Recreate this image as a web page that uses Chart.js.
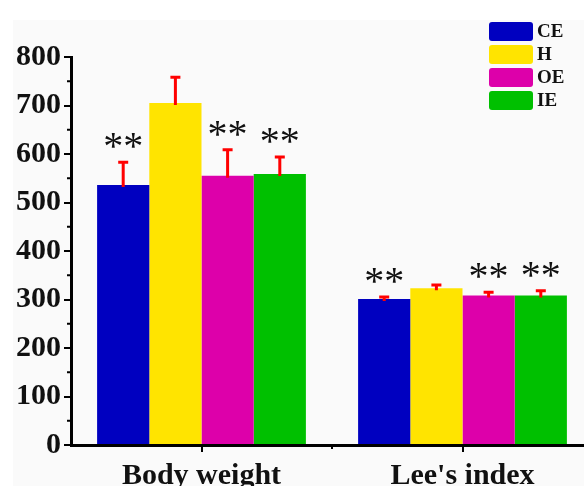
<!DOCTYPE html>
<html>
<head>
<meta charset="utf-8">
<script src="https://cdn.jsdelivr.net/npm/chart.js@4/dist/chart.umd.min.js"></script>
<style>
  html, body { margin: 0; padding: 0; background: #fff; overflow: hidden; width: 584px; height: 486px; }
  #panel { position: absolute; left: 13px; top: 20px; right: 0; bottom: 0; background: #fafafa; }
  #wrap { position: absolute; left: 0; top: 0; width: 604px; height: 500px; }
</style>
</head>
<body>
<div id="panel"></div>
<div id="wrap"><canvas id="chart" width="604" height="500"></canvas></div>
<script>
// categories and groups
const categories = ['Body weight', "Lee's index"];
const groupNames = ['CE', 'H', 'OE', 'IE'];

// means
const ceValues = [536, 301];
const hValues = [705, 323];
const oeValues = [555, 308];
const ieValues = [559, 308];

// error (upper) values
const ceErrors = [47, 4];
const hErrors = [53, 7];
const oeErrors = [54, 7];
const ieErrors = [35, 10];

// significance marks
const ceMarks = ['**', '**'];
const hMarks = ['', ''];
const oeMarks = ['**', '**'];
const ieMarks = ['**', '**'];

const yTicks = [0, 100, 200, 300, 400, 500, 600, 700, 800];

const serif = "'Liberation Serif', 'Times New Roman', serif";
const colors = ['#0000c0', '#ffe400', '#dd00aa', '#00c000'];

const values = [ceValues, hValues, oeValues, ieValues];
const errors = [ceErrors, hErrors, oeErrors, ieErrors];
const marks = [ceMarks, hMarks, oeMarks, ieMarks];

const datasets = groupNames.map((name, i) => ({
  label: name,
  data: values[i],
  errors: errors[i],
  marks: marks[i],
  backgroundColor: colors[i],
  borderWidth: 0,
  categoryPercentage: 0.8,
  barPercentage: 1.0,
}));

// error bars, asterisks, minor ticks, legend
const extras = {
  id: 'extras',
  afterDatasetsDraw(chart) {
    const ctx = chart.ctx;
    const y = chart.scales.y;
    const x = chart.scales.x;
    ctx.save();

    // error bars
    chart.data.datasets.forEach((ds, di) => {
      const meta = chart.getDatasetMeta(di);
      meta.data.forEach((bar, i) => {
        const top = y.getPixelForValue(ds.data[i] + ds.errors[i]);
        ctx.strokeStyle = '#ff0000';
        ctx.lineWidth = 3;
        ctx.beginPath();
        ctx.moveTo(bar.x, bar.y + 2);
        ctx.lineTo(bar.x, top);
        ctx.moveTo(bar.x - 5, top);
        ctx.lineTo(bar.x + 5, top);
        ctx.stroke();

        if (ds.marks[i]) {
          ctx.fillStyle = '#111';
          ctx.font = '40px ' + serif;
          ctx.textAlign = 'center';
          ctx.textBaseline = 'alphabetic';
          ctx.fillText(ds.marks[i], bar.x, top - 3);
        }
      });
    });

    // minor ticks on y
    ctx.strokeStyle = '#000';
    ctx.lineWidth = 2;
    for (let v = 50; v < 800; v += 100) {
      const py = y.getPixelForValue(v);
      ctx.beginPath();
      ctx.moveTo(chart.chartArea.left - 4, py);
      ctx.lineTo(chart.chartArea.left, py);
      ctx.stroke();
    }
    // minor tick between categories
    const mid = (x.getPixelForTick(0) + x.getPixelForTick(1)) / 2;
    ctx.beginPath();
    ctx.moveTo(mid, chart.chartArea.bottom);
    ctx.lineTo(mid, chart.chartArea.bottom + 4);
    ctx.stroke();

    // legend
    chart.data.datasets.forEach((ds, di) => {
      const bx = 489, by = 22 + di * 23;
      ctx.fillStyle = ds.backgroundColor;
      ctx.beginPath();
      ctx.roundRect(bx, by, 44, 19, 3);
      ctx.fill();
      ctx.fillStyle = '#111';
      ctx.font = 'bold 19px ' + serif;
      ctx.textAlign = 'left';
      ctx.textBaseline = 'middle';
      ctx.fillText(ds.label, bx + 48, by + 10);
    });

    ctx.restore();
  }
};

new Chart(document.getElementById('chart'), {
  type: 'bar',
  data: { labels: categories, datasets: datasets },
  options: {
    responsive: false,
    animation: false,
    layout: { padding: { top: 57, right: 11, left: 0, bottom: 0 } },
    plugins: { legend: { display: false }, tooltip: { enabled: false } },
    scales: {
      x: {
        offset: true,
        grid: { offset: false, drawOnChartArea: false, tickLength: 7, color: '#000', lineWidth: 2 },
        border: { color: '#000', width: 3 },
        ticks: { color: '#111', font: { family: serif, size: 30, weight: 'bold' }, padding: 6 },
        afterFit(scale) { scale.height = 55; },
      },
      y: {
        min: 0,
        max: 800,
        afterBuildTicks(scale) { scale.ticks = yTicks.map(v => ({ value: v })); },
        grid: { drawOnChartArea: false, tickLength: 7, color: '#000', lineWidth: 2 },
        border: { color: '#000', width: 3 },
        ticks: { color: '#111', font: { family: serif, size: 30, weight: 'bold' }, padding: 3 },
        afterFit(scale) { scale.width = 71; },
      },
    },
  },
  plugins: [extras],
});
</script>
</body>
</html>
